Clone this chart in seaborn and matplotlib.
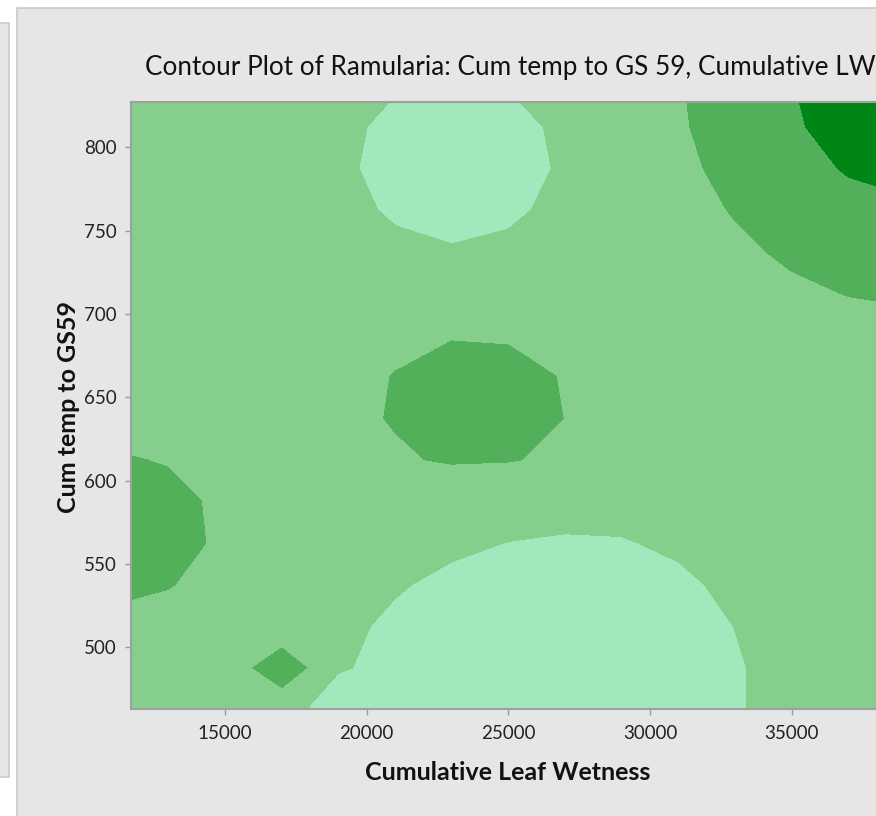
import numpy as np
import matplotlib.pyplot as plt
import seaborn as sns
from matplotlib.patches import Rectangle

# grid of the contour surface
leaf_wetness = [11000, 13000, 15000, 17000, 19000, 21000, 23000, 25000,
                27000, 29000, 31000, 33000, 35000, 37000, 39000]
cum_temp = [837.5, 812.5, 787.5, 762.5, 737.5, 712.5, 687.5, 662.5,
            637.5, 612.5, 587.5, 562.5, 537.5, 512.5, 487.5, 462.5]
ramularia = [
    [3.00, 3.00, 3.00, 3.00, 2.50, 2.09, 1.90, 2.05, 2.45, 2.94, 3.88, 4.91, 5.94, 6.97, 7.97],
    [3.00, 3.00, 3.00, 2.83, 2.27, 1.74, 1.40, 1.68, 2.20, 2.77, 3.80, 4.80, 5.78, 6.69, 7.25],
    [3.00, 3.00, 3.00, 2.79, 2.21, 1.63, 1.10, 1.56, 2.14, 2.72, 3.59, 4.53, 5.41, 6.14, 6.49],
    [3.00, 3.00, 3.00, 2.88, 2.34, 1.85, 1.59, 1.81, 2.28, 2.82, 3.27, 4.13, 4.90, 5.48, 5.73],
    [3.00, 3.00, 3.00, 3.00, 2.62, 2.25, 2.09, 2.22, 2.57, 3.00, 3.00, 3.64, 4.31, 4.78, 4.98],
    [3.00, 3.00, 3.00, 3.00, 2.99, 2.70, 2.58, 2.67, 2.95, 3.00, 3.00, 3.08, 3.66, 4.06, 4.22],
    [3.00, 3.00, 3.00, 3.00, 3.19, 3.63, 3.91, 3.86, 3.54, 3.06, 3.00, 3.00, 3.00, 3.33, 3.46],
    [3.00, 3.00, 3.00, 3.00, 3.48, 4.05, 4.52, 4.43, 3.92, 3.33, 3.00, 3.00, 3.00, 3.00, 3.00],
    [3.57, 3.45, 3.15, 3.00, 3.52, 4.12, 4.68, 4.56, 3.98, 3.37, 2.83, 2.96, 3.00, 3.00, 3.00],
    [4.11, 3.93, 3.53, 2.95, 3.30, 3.78, 4.20, 4.10, 3.68, 2.49, 2.58, 2.73, 2.94, 3.00, 3.00],
    [4.65, 4.31, 3.78, 2.76, 2.60, 2.45, 2.33, 2.25, 2.21, 2.22, 2.33, 2.51, 2.75, 3.00, 3.00],
    [4.81, 4.37, 3.81, 2.60, 2.41, 2.24, 2.10, 1.99, 1.94, 1.96, 2.10, 2.31, 2.58, 2.87, 3.00],
    [4.27, 4.05, 3.62, 2.46, 2.25, 2.05, 1.88, 1.75, 1.68, 1.71, 1.88, 2.14, 2.44, 2.75, 3.00],
    [3.72, 3.59, 2.58, 2.35, 2.13, 1.90, 1.70, 1.52, 1.42, 1.46, 1.70, 2.01, 2.33, 2.67, 3.00],
    [3.18, 2.78, 2.54, 5.50, 2.06, 1.82, 1.58, 1.35, 1.16, 1.27, 1.59, 1.93, 2.28, 2.62, 2.97],
    [3.00, 2.78, 2.54, 2.30, 1.60, 1.82, 1.58, 1.35, 1.15, 1.26, 1.59, 1.93, 2.28, 2.62, 2.97],
]
levels = [0, 2, 4, 6, 9]
greens = ['#a3e8bc', '#86ce8c', '#52b05a', '#008517']
xticks = [15000, 20000, 25000, 30000, 35000]
yticks = [500, 550, 600, 650, 700, 750, 800]

sns.set_theme(style='white')
plt.rcParams['font.family'] = ['Lato', 'DejaVu Sans']

W, H = 876, 816
fig = plt.figure(figsize=(W / 100, H / 100), dpi=100, facecolor='white')

def px_box(x0, y0, x1, y1):
    return (x0 / W, 1 - y1 / H), (x1 - x0) / W, (y1 - y0) / H

# side panel and main panel backgrounds (behind the axes)
for (x0, y0, x1, y1) in [(-5, 23, 8.5, 777), (17, 8, 900, 830)]:
    xy, w, h = px_box(x0, y0, x1, y1)
    fig.patches.append(Rectangle(xy, w, h, transform=fig.transFigure, zorder=-10,
                                 facecolor='#e6e6e6', edgecolor='#c9c9c9', lw=1.2))

ax = fig.add_axes([130.5 / W, 1 - 708.5 / H, (885.5 - 130.5) / W, (708.5 - 101.5) / H])
X, Y = np.meshgrid(leaf_wetness, cum_temp)
ax.contourf(X, Y, np.array(ramularia), levels=levels, colors=greens)

ax.set_xlim(11666, 38306)
ax.set_ylim(463.1, 827.6)
ax.set_xticks(xticks)
ax.set_yticks(yticks)
for s in ['left', 'bottom', 'top']:
    ax.spines[s].set_color('#a0a0a0')
    ax.spines[s].set_linewidth(1.5)
ax.spines['right'].set_visible(False)
ax.tick_params(direction='out', length=4, width=1, color='#9a9a9a',
               labelcolor='#222222', labelsize=13.5, pad=6)
ax.tick_params(axis='x', pad=8)
ax.tick_params(left=True, bottom=True)

ax.set_xlabel('Cumulative Leaf Wetness', fontsize=18, fontweight='bold', color='#111111')
ax.xaxis.set_label_coords(0.5, -0.106)
ax.xaxis.label.set_va('center')
ax.set_ylabel('Cum temp to GS59', fontsize=18, fontweight='bold', color='#111111')
ax.yaxis.set_label_coords((68 - 130.5) / 755, (708.5 - 407) / 607)
ax.yaxis.label.set_va('center')

fig.text(510 / W, 1 - 68 / H, 'Contour Plot of Ramularia: Cum temp to GS 59, Cumulative LW',
         ha='center', va='center', fontsize=18.8, color='#111111')

fig.savefig('out.png', dpi=100, facecolor='white')
